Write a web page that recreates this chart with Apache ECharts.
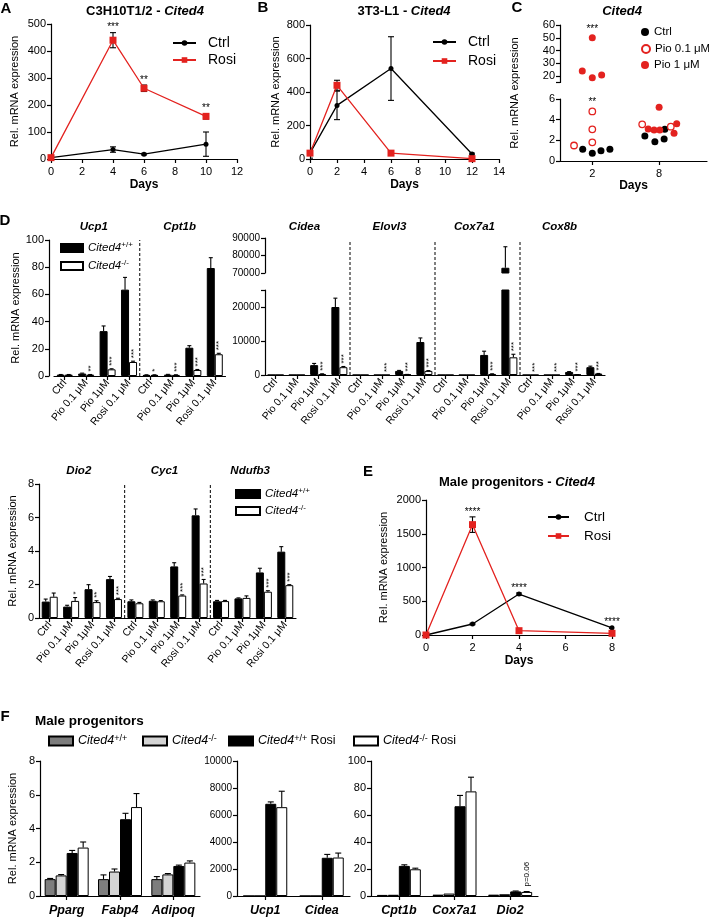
<!DOCTYPE html>
<html>
<head>
<meta charset="utf-8">
<title>Cited4</title>
<script src="https://cdn.jsdelivr.net/npm/echarts@6.0.0/dist/echarts.min.js"></script>
<style>
  html, body { margin: 0; padding: 0; background: #fff; }
  #chart { width: 709px; height: 922px; }
</style>
</head>
<body>
<div id="chart"></div>
<script>
/* -------------------------------------------------------------------------- */
/*                                    Data                                    */
/* -------------------------------------------------------------------------- */

// A: C3H10T1/2 - Cited4
const daysA = [0, 4, 6, 10];
const ctrlA = [5, 35, 18, 55];
const ctrlAErr = [3, 10, 3, 45];
const rosiA = [5, 440, 262, 158];
const rosiAErr = [3, 28, 12, 10];
const starsA = ['', '***', '**', '**'];

// B: 3T3-L1 - Cited4
const daysB = [0, 2, 6, 12];
const ctrlB = [35, 320, 540, 30];
const ctrlBErr = [30, 85, 190, 5];
const rosiB = [35, 440, 35, 2];
const rosiBErr = [5, 30, 4, 2];

// C: Cited4, single wells [day + jitter, value]
const ctrlC = [[1.14, 1.13], [2, 0.75], [2.78, 1.0], [3.58, 1.13], [6.72, 2.42], [7.62, 1.87], [8.45, 2.13], [8.51, 3.07]];
const pio01C = [[0.36, 1.5], [2, 4.8], [2, 3.07], [2, 1.81], [6.48, 3.55], [9.05, 3.32]];
const pio1C = [[2, 50], [1.1, 23.9], [2, 18.7], [2.84, 20.8], [8, 5.2], [7.02, 3.1], [7.55, 3.0], [8.06, 3.0], [9.58, 3.61], [9.34, 2.68]];
const daysC = [2, 8];
const starsCTop = ['***', ''];
const starsCBottom = ['**', ''];

// D: treatments per gene
const treatments = ['Ctrl', 'Pio 0.1 μM', 'Pio 1μM', 'Rosi 0.1 μM'];

const genesD1 = ['Ucp1', 'Cpt1b'];
const wtD1 = [1, 1.8, 33, 63.5, 0.8, 1, 20.8, 79.4];
const wtD1Err = [0.1, 0.3, 3.8, 9, 0.1, 0.2, 1.5, 7.6];
const koD1 = [1, 1, 4.9, 10.3, 0.8, 0.8, 4.4, 16];
const koD1Err = [0.1, 0.1, 0.4, 0.6, 0.1, 0.1, 0.4, 0.7];
const starsD1 = ['', '**', '***', '***', '*', '***', '***', '***'];

const genesD2 = ['Cidea', 'Elovl3', 'Cox7a1', 'Cox8b'];
const wtD2 = [1, 1, 2900, 20000, 1, 1, 1200, 9700, 1, 1, 5900, 73000, 1, 1, 900, 2300];
const wtD2Err = [0, 0, 500, 2600, 0, 0, 150, 1200, 0, 0, 1100, 12000, 0, 0, 100, 300];
const koD2 = [1, 1, 300, 2300, 1, 1, 150, 1200, 1, 1, 300, 5200, 1, 1, 100, 400];
const koD2Err = [0, 0, 50, 200, 0, 0, 20, 100, 0, 0, 50, 900, 0, 0, 20, 50];
const starsD2 = ['', '', '***', '***', '', '***', '***', '***', '', '', '***', '***', '***', '***', '***', '***'];

const genesD3 = ['Dio2', 'Cyc1', 'Ndufb3'];
const wtD3 = [0.98, 0.68, 1.72, 2.32, 1.0, 1.03, 3.08, 6.13, 1.0, 1.17, 2.72, 3.96];
const wtD3Err = [0.15, 0.08, 0.27, 0.16, 0.08, 0.05, 0.22, 0.38, 0.05, 0.03, 0.25, 0.3];
const koD3 = [1.27, 1.02, 0.95, 1.13, 0.88, 1.0, 1.34, 2.06, 1.01, 1.2, 1.57, 1.96];
const koD3Err = [0.22, 0.2, 0.08, 0.05, 0.05, 0.04, 0.04, 0.24, 0.04, 0.12, 0.06, 0.03];
const starsD3 = ['', '*', '**', '***', '', '', '***', '***', '', '', '***', '***'];

// E: male progenitors - Cited4
const daysE = [0, 2, 4, 8];
const ctrlE = [0, 163, 607, 106];
const ctrlEErr = [0, 10, 15, 8];
const rosiE = [0, 1635, 64, 25];
const rosiEErr = [0, 115, 8, 5];
const starsE = ['', '****', '****', '****'];

// F: male progenitors
const genesF1 = ['Pparg', 'Fabp4', 'Adipoq'];
const wtF1 = [1.0, 1.0, 1.0];
const wtF1Err = [0.04, 0.25, 0.15];
const koF1 = [1.22, 1.45, 1.28];
const koF1Err = [0.05, 0.15, 0.05];
const wtRosiF1 = [2.55, 4.55, 1.78];
const wtRosiF1Err = [0.15, 0.35, 0.05];
const koRosiF1 = [2.87, 5.27, 1.98];
const koRosiF1Err = [0.33, 0.8, 0.1];

const genesF2 = ['Ucp1', 'Cidea'];
const wtF2 = [1, 1];
const koF2 = [1, 1];
const wtRosiF2 = [6830, 2830];
const wtRosiF2Err = [140, 250];
const koRosiF2 = [6580, 2850];
const koRosiF2Err = [1180, 330];

const genesF3 = ['Cpt1b', 'Cox7a1', 'Dio2'];
const wtF3 = [0.8, 1.0, 1.0];
const koF3 = [0.9, 1.8, 1.3];
const wtRosiF3 = [22.3, 66.5, 3.4];
const wtRosiF3Err = [0.8, 8, 0.3];
const koRosiF3 = [19.8, 77.5, 3.0];
const koRosiF3Err = [0.8, 10.5, 0.3];
const notesF3 = ['', '', 'p=0.06'];

/* -------------------------------------------------------------------------- */
/*                                   Helpers                                  */
/* -------------------------------------------------------------------------- */

const FONT = '"Liberation Sans", Arial, sans-serif';
const RED = '#e3221f';
const YNAME = 'Rel. mRNA expression';

const merge = (a, b) => {
  if (!b) return a;
  Object.keys(b).forEach(k => {
    const v = b[k];
    if (v && typeof v === 'object' && !Array.isArray(v) && a[k] && typeof a[k] === 'object') merge(a[k], v);
    else a[k] = v;
  });
  return a;
};

const tok = (size, weight, style, extra) =>
  Object.assign({ fontSize: size, fontWeight: weight || 'normal', fontStyle: style || 'normal', fontFamily: FONT, color: '#000', fill: '#000' }, extra);

const option = {
  animation: false,
  backgroundColor: '#fff',
  grid: [],
  xAxis: [],
  yAxis: [],
  series: [],
  legend: [],
  graphic: { elements: [] },
};

const addGrid = rect => {
  option.grid.push(Object.assign({ containLabel: false }, rect));
  return option.grid.length - 1;
};

const axisBase = (gridIndex, extra) =>
  merge({
    gridIndex,
    axisLine: { show: true, onZero: false, lineStyle: { color: '#000', width: 1.2 } },
    axisTick: { show: true, length: 4, lineStyle: { color: '#000', width: 1.2 } },
    axisLabel: { color: '#000', fontSize: 11, fontFamily: FONT, margin: 5, formatter: v => String(v) },
    splitLine: { show: false },
    nameTextStyle: { color: '#000', fontFamily: FONT, fontSize: 11 },
  }, extra);

const addX = (gi, extra) => { option.xAxis.push(axisBase(gi, extra)); return option.xAxis.length - 1; };
const addY = (gi, extra) => { option.yAxis.push(axisBase(gi, extra)); return option.yAxis.length - 1; };
const hiddenX = (gi, extra) => { option.xAxis.push(Object.assign({ gridIndex: gi, show: false, type: 'value' }, extra)); return option.xAxis.length - 1; };
const hiddenY = (gi, extra) => { option.yAxis.push(Object.assign({ gridIndex: gi, show: false, type: 'value' }, extra)); return option.yAxis.length - 1; };

const daysName = gap => ({
  name: 'Days', nameLocation: 'middle', nameGap: gap,
  nameTextStyle: { fontWeight: 'bold', fontSize: 12 },
});
const yName = gap => ({ name: YNAME, nameLocation: 'middle', nameGap: gap });

// vertical error bars drawn through the axes
const errorBars = (xi, yi, pts, errs, opt = {}) => ({
  type: 'custom',
  xAxisIndex: xi,
  yAxisIndex: yi,
  silent: true,
  clip: true,
  z: 3,
  data: pts.map((p, i) => [p[0], p[1], errs[i]]),
  encode: { x: 0, y: 1 },
  renderItem(params, api) {
    const x = api.value(0);
    const y = api.value(1);
    const e = api.value(2);
    if (!e) return null;
    const top = api.coord([x, y + e]);
    const base = api.coord([x, opt.both ? y - e : y]);
    const cx = top[0] + (opt.dx || 0);
    const cap = opt.cap || 3;
    const st = { stroke: '#000', lineWidth: 1.1 };
    const kids = [
      { type: 'line', shape: { x1: cx, y1: top[1], x2: cx, y2: base[1] }, style: st },
      { type: 'line', shape: { x1: cx - cap, y1: top[1], x2: cx + cap, y2: top[1] }, style: st },
    ];
    if (opt.both) kids.push({ type: 'line', shape: { x1: cx - cap, y1: base[1], x2: cx + cap, y2: base[1] }, style: st });
    return { type: 'group', children: kids };
  },
});

// small annotations (stars, p values) anchored at data points
const textMarks = (xi, yi, pts, texts, opt = {}) => ({
  type: 'custom',
  xAxisIndex: xi,
  yAxisIndex: yi,
  silent: true,
  z: 5,
  data: pts,
  encode: { x: 0, y: 1 },
  renderItem(params, api) {
    const t = texts[params.dataIndex];
    if (!t) return null;
    const p = api.coord([api.value(0), api.value(1)]);
    return {
      type: 'text',
      x: p[0] + (opt.dx || 0),
      y: p[1] + (opt.dy || 0),
      rotation: opt.rotation || 0,
      style: {
        text: t, fontSize: opt.fontSize || 10, fontFamily: FONT, fill: '#000',
        align: opt.align || 'center', verticalAlign: opt.valign || 'bottom',
      },
    };
  },
});

const addText = (x, y, text, style, extra) => {
  option.graphic.elements.push(Object.assign({
    type: 'text', x, y, silent: true,
    style: Object.assign({ text, fill: '#000', fontFamily: FONT, fontSize: 12, align: 'center', verticalAlign: 'middle' }, style),
  }, extra));
};

const supRich = size => ({
  i: tok(size, 'normal', 'italic', { lineHeight: 14 }),
  s: tok(Math.round(size * 0.68), 'normal', 'normal', { lineHeight: 7, verticalAlign: 'top' }),
  n: tok(size, 'normal', 'normal', { lineHeight: 14 }),
});

const legendItem = (name, left, cy, o = {}) => {
  const h = o.lineHeight || 16;
  const lg = {
    data: [name], left, top: cy - h / 2, padding: 0, selectedMode: false,
    itemWidth: o.w || 23, itemHeight: o.h || 8,
    textStyle: { color: '#000', fontFamily: FONT, fontSize: o.fontSize || 13, lineHeight: h, padding: [0, 0, 0, o.pad || 0] },
  };
  if (o.icon) lg.icon = o.icon;
  if (o.formatter) lg.formatter = o.formatter;
  if (o.rich) lg.textStyle.rich = o.rich;
  option.legend.push(lg);
};

const lineSeries = (xi, yi, name, xs, ys, isRosi) => ({
  type: 'line',
  name,
  xAxisIndex: xi,
  yAxisIndex: yi,
  data: xs.map((d, i) => [d, ys[i]]),
  symbol: isRosi ? 'rect' : 'circle',
  symbolSize: isRosi ? 7 : 5,
  z: 4,
  itemStyle: { color: isRosi ? RED : '#000' },
  lineStyle: { color: isRosi ? RED : '#000', width: 1.3 },
});

const timeCourse = (xi, yi, days, ctrl, ctrlErr, rosi, rosiErr, stars) => {
  option.series.push(
    errorBars(xi, yi, days.map((d, i) => [d, ctrl[i]]), ctrlErr, { both: true, cap: 3 }),
    errorBars(xi, yi, days.map((d, i) => [d, rosi[i]]), rosiErr, { both: true, cap: 3 }),
    lineSeries(xi, yi, 'Ctrl', days, ctrl, false),
    lineSeries(xi, yi, 'Rosi', days, rosi, true)
  );
  if (stars) {
    const tops = days.map((d, i) => [d, Math.max(ctrl[i] + ctrlErr[i], rosi[i] + rosiErr[i])]);
    option.series.push(textMarks(xi, yi, tops, stars, { dy: 0, fontSize: 10 }));
  }
};

const pairBars = (xi, yi, wt, wtErr, ko, koErr, stars) => {
  const idx = wt.map((_, i) => i);
  option.series.push(
    { type: 'bar', name: 'WT', xAxisIndex: xi, yAxisIndex: yi, data: wt, barWidth: 8, barGap: '0%', clip: true,
      itemStyle: { color: '#000', borderColor: '#000', borderWidth: 1 } },
    { type: 'bar', name: 'KO', xAxisIndex: xi, yAxisIndex: yi, data: ko, barWidth: 8, barGap: '0%', clip: true,
      itemStyle: { color: '#fff', borderColor: '#000', borderWidth: 1 } },
    errorBars(xi, yi, idx.map(i => [i, wt[i]]), wtErr, { dx: -4, cap: 2 }),
    errorBars(xi, yi, idx.map(i => [i, ko[i]]), koErr, { dx: 4, cap: 2 })
  );
  if (stars) {
    option.series.push(textMarks(xi, yi, idx.map(i => [i, ko[i] + koErr[i]]), stars,
      { dx: 4.5, dy: -3, rotation: Math.PI / 2, align: 'left', valign: 'middle', fontSize: 8 }));
  }
};

const F_COLORS = ['#7d7d7d', '#d4d4d4', '#000', '#fff'];
const F_NAMES = ['F-WT', 'F-KO', 'F-WTR', 'F-KOR'];
const F_DX = [-16.5, -5.5, 5.5, 16.5];

const quadBars = (xi, yi, sets, errs, notes) => {
  sets.forEach((vals, k) => {
    option.series.push({
      type: 'bar', name: F_NAMES[k], xAxisIndex: xi, yAxisIndex: yi, data: vals, barWidth: 11, barGap: '0%',
      itemStyle: { color: F_COLORS[k], borderColor: '#000', borderWidth: 1 },
    });
    if (errs[k]) option.series.push(errorBars(xi, yi, vals.map((v, i) => [i, v]), errs[k], { dx: F_DX[k], cap: 3 }));
  });
  if (notes) {
    const v = sets[3];
    option.series.push(textMarks(xi, yi, v.map((y, i) => [i, y + (errs[3] ? errs[3][i] : 0)]), notes,
      { dx: F_DX[3], dy: -5, rotation: Math.PI / 2, align: 'left', valign: 'middle', fontSize: 8 }));
  }
};

const dashedSplits = (xi, yi, nGenes) => {
  for (let k = 1; k < nGenes; k++) {
    const at = k * treatments.length;
    option.series.push({
      type: 'line', xAxisIndex: xi, yAxisIndex: yi, silent: true, symbol: 'none',
      data: [[at, 0], [at, 1]],
      lineStyle: { color: '#000', width: 1, type: [3, 2] },
    });
  }
};

const repeatCats = genes => genes.flatMap(() => treatments);
const catAxis = (gi, cats, extra) => addX(gi, merge({
  type: 'category', data: cats,
  axisTick: { alignWithLabel: true, interval: 0 },
  axisLabel: { interval: 0, rotate: 50, fontSize: 10.5, margin: 5 },
}, extra));

/* -------------------------------------------------------------------------- */
/*                                   Panels                                   */
/* -------------------------------------------------------------------------- */

// A
const gA = addGrid({ left: 51, top: 24, width: 186, height: 135 });
const xA = addX(gA, merge({ type: 'value', min: 0, max: 12, interval: 2, axisLabel: { margin: 7 } }, daysName(20)));
const yA = addY(gA, merge({ type: 'value', min: 0, max: 500, interval: 100 }, yName(31)));
timeCourse(xA, yA, daysA, ctrlA, ctrlAErr, rosiA, rosiAErr, starsA);

// B
const gB = addGrid({ left: 310, top: 25, width: 189, height: 134 });
const xB = addX(gB, merge({ type: 'value', min: 0, max: 14, interval: 2, axisLabel: { margin: 7 } }, daysName(20)));
const yB = addY(gB, merge({ type: 'value', min: 0, max: 800, interval: 200 }, yName(29)));
timeCourse(xB, yB, daysB, ctrlB, ctrlBErr, rosiB, rosiBErr, null);

// C (broken y axis)
const gCt = addGrid({ left: 560, top: 25, width: 147, height: 57.4 });
const gCb = addGrid({ left: 560, top: 99, width: 147, height: 62 });
const xCt = hiddenX(gCt, { min: -0.9, max: 12.3 });
const yCt = addY(gCt, {
  type: 'value', min: 15, max: 60,
  axisLabel: { customValues: [20, 30, 40, 50, 60] },
  axisTick: { customValues: [15, 20, 30, 40, 50, 60] },
});
const xCb = addX(gCb, merge({
  type: 'value', min: -0.9, max: 12.3,
  axisLabel: { customValues: daysC, margin: 7 },
  axisTick: { customValues: daysC },
}, daysName(15)));
const yCb = addY(gCb, { type: 'value', min: 0, max: 6, interval: 2 });
[[xCt, yCt], [xCb, yCb]].forEach(([xi, yi]) => {
  option.series.push(
    { type: 'scatter', name: 'C-Ctrl', xAxisIndex: xi, yAxisIndex: yi, data: ctrlC, symbolSize: 7, clip: true,
      itemStyle: { color: '#000', opacity: 1 } },
    { type: 'scatter', name: 'C-Pio01', xAxisIndex: xi, yAxisIndex: yi, data: pio01C, symbolSize: 6.5, clip: true,
      itemStyle: { color: '#fff', borderColor: RED, borderWidth: 1.3, opacity: 1 } },
    { type: 'scatter', name: 'C-Pio1', xAxisIndex: xi, yAxisIndex: yi, data: pio1C, symbolSize: 7, clip: true,
      itemStyle: { color: RED, opacity: 1 } }
  );
});
option.series.push(
  textMarks(xCt, yCt, daysC.map(d => [d, Math.max(...pio1C.filter(p => Math.abs(p[0] - d) < 2).map(p => p[1]))]), starsCTop, { dy: -4 }),
  textMarks(xCb, yCb, daysC.map(d => [d, Math.max(...pio01C.filter(p => Math.abs(p[0] - d) < 2).map(p => p[1]))]), starsCBottom, { dy: -4 })
);

// D top-left: Ucp1, Cpt1b
const gD1 = addGrid({ left: 54, top: 240, width: 171.5, height: 136 });
const xD1 = catAxis(gD1, repeatCats(genesD1));
const yD1 = addY(gD1, merge({ type: 'value', min: 0, max: 100, interval: 20, offset: 5 }, yName(28)));
pairBars(xD1, yD1, wtD1, wtD1Err, koD1, koD1Err, starsD1);
dashedSplits(hiddenX(gD1, { min: 0, max: wtD1.length }), hiddenY(gD1, { min: 0, max: 1 }), genesD1.length);

// D top-right: Cidea ... Cox8b (broken y axis)
const gD2t = addGrid({ left: 265, top: 238, width: 340, height: 35 });
const gD2b = addGrid({ left: 265, top: 290, width: 340, height: 85 });
const gD2o = addGrid({ left: 265, top: 240, width: 340, height: 135 });
const xD2t = addX(gD2t, { type: 'category', data: repeatCats(genesD2), show: false });
const yD2t = addY(gD2t, { type: 'value', min: 70000, max: 90000, interval: 10000, axisLabel: { fontSize: 10 } });
const xD2b = catAxis(gD2b, repeatCats(genesD2));
const yD2b = addY(gD2b, {
  type: 'value', min: 0, max: 25000,
  axisLabel: { fontSize: 10, customValues: [0, 10000, 20000] },
  axisTick: { customValues: [0, 10000, 20000, 25000] },
});
pairBars(xD2t, yD2t, wtD2, wtD2Err, koD2, koD2Err, null);
pairBars(xD2b, yD2b, wtD2, wtD2Err, koD2, koD2Err, starsD2);
dashedSplits(hiddenX(gD2o, { min: 0, max: wtD2.length }), hiddenY(gD2o, { min: 0, max: 1 }), genesD2.length);

// D bottom: Dio2, Cyc1, Ndufb3
const gD3 = addGrid({ left: 39, top: 484, width: 257, height: 134 });
const xD3 = catAxis(gD3, repeatCats(genesD3));
const yD3 = addY(gD3, merge({ type: 'value', min: 0, max: 8, interval: 2 }, yName(21)));
pairBars(xD3, yD3, wtD3, wtD3Err, koD3, koD3Err, starsD3);
dashedSplits(hiddenX(gD3, { min: 0, max: wtD3.length }), hiddenY(gD3, { min: 0, max: 1 }), genesD3.length);

// E
const gE = addGrid({ left: 426, top: 500, width: 186, height: 135 });
const xE = addX(gE, merge({ type: 'value', min: 0, max: 8, interval: 2, axisLabel: { margin: 7 } }, daysName(20)));
const yE = addY(gE, merge({ type: 'value', min: 0, max: 2000, interval: 500 }, yName(37)));
timeCourse(xE, yE, daysE, ctrlE, ctrlEErr, rosiE, rosiEErr, starsE);

// F
const fCat = () => ({
  type: 'category',
  axisTick: { alignWithLabel: true, interval: 0 },
  axisLabel: { interval: 0, fontSize: 12.5, fontWeight: 'bold', fontStyle: 'italic', margin: 8 },
});
const gF1 = addGrid({ left: 40, top: 761, width: 160, height: 135 });
const xF1 = addX(gF1, merge(fCat(), { data: genesF1 }));
const yF1 = addY(gF1, merge({ type: 'value', min: 0, max: 8, interval: 2 }, yName(22)));
quadBars(xF1, yF1, [wtF1, koF1, wtRosiF1, koRosiF1], [wtF1Err, koF1Err, wtRosiF1Err, koRosiF1Err], null);

const gF2 = addGrid({ left: 237, top: 761, width: 113, height: 135 });
const xF2 = addX(gF2, merge(fCat(), { data: genesF2 }));
const yF2 = addY(gF2, { type: 'value', min: 0, max: 10000, interval: 2000, axisLabel: { fontSize: 10 } });
quadBars(xF2, yF2, [wtF2, koF2, wtRosiF2, koRosiF2], [null, null, wtRosiF2Err, koRosiF2Err], null);

const gF3 = addGrid({ left: 371, top: 761, width: 167, height: 135 });
const xF3 = addX(gF3, merge(fCat(), { data: genesF3 }));
const yF3 = addY(gF3, { type: 'value', min: 0, max: 100, interval: 20 });
quadBars(xF3, yF3, [wtF3, koF3, wtRosiF3, koRosiF3], [null, null, wtRosiF3Err, koRosiF3Err], notesF3);

/* -------------------------------------------------------------------------- */
/*                                  Legends                                   */
/* -------------------------------------------------------------------------- */

legendItem('Ctrl', 172, 43, { pad: 7, fontSize: 14, h: 7 });
legendItem('Rosi', 172, 60, { pad: 7, fontSize: 14, h: 7 });
legendItem('Ctrl', 432, 42, { pad: 7, fontSize: 14, h: 7 });
legendItem('Rosi', 432, 61, { pad: 7, fontSize: 14, h: 7 });
legendItem('Ctrl', 547, 517, { pad: 10, fontSize: 13.5, h: 7, w: 21 });
legendItem('Rosi', 547, 536, { pad: 10, fontSize: 13.5, h: 7, w: 21 });

const cLabels = { 'C-Ctrl': 'Ctrl', 'C-Pio01': 'Pio 0.1 μM', 'C-Pio1': 'Pio 1 μM' };
[['C-Ctrl', 32], ['C-Pio01', 49], ['C-Pio1', 65]].forEach(([n, cy]) => {
  legendItem(n, 641, cy, { w: 8, h: 8, pad: 0, fontSize: 11.5, formatter: name => cLabels[name] });
});

const dLabels = { WT: '{i|Cited4}{s|+/+}', KO: '{i|Cited4}{s|-/-}' };
const dFmt = name => dLabels[name];
legendItem('WT', 60, 249, { icon: 'rect', w: 22, h: 8, fontSize: 11, formatter: dFmt, rich: supRich(11.5) });
legendItem('KO', 60, 267, { icon: 'rect', w: 22, h: 8, fontSize: 11, formatter: dFmt, rich: supRich(11.5) });
legendItem('WT', 235, 495, { icon: 'rect', w: 24, h: 8, fontSize: 11, formatter: dFmt, rich: supRich(11.5) });
legendItem('KO', 235, 512, { icon: 'rect', w: 24, h: 8, fontSize: 11, formatter: dFmt, rich: supRich(11.5) });

const fLabels = {
  'F-WT': '{i|Cited4}{s|+/+}', 'F-KO': '{i|Cited4}{s|-/-}',
  'F-WTR': '{i|Cited4}{s|+/+}{n| Rosi}', 'F-KOR': '{i|Cited4}{s|-/-}{n| Rosi}',
};
[['F-WT', 48], ['F-KO', 142], ['F-WTR', 228], ['F-KOR', 353]].forEach(([n, left]) => {
  legendItem(n, left, 742, { icon: 'rect', w: 24, h: 9, fontSize: 12.5, formatter: name => fLabels[name], rich: supRich(12.5) });
});

/* -------------------------------------------------------------------------- */
/*                              Titles and letters                            */
/* -------------------------------------------------------------------------- */

const titleRich = size => ({ b: tok(size, 'bold', 'normal'), bi: tok(size, 'bold', 'italic') });
addText(145, 11, '{b|C3H10T1/2 - }{bi|Cited4}', { rich: titleRich(13) });
addText(404, 11, '{b|3T3-L1 - }{bi|Cited4}', { rich: titleRich(13) });
addText(622, 11, '{bi|Cited4}', { rich: titleRich(13) });
addText(517, 482, '{b|Male progenitors - }{bi|Cited4}', { rich: titleRich(13) });
addText(35, 721, 'Male progenitors', { fontWeight: 'bold', fontSize: 13.5, align: 'left' });

[['A', 6, 9], ['B', 263, 8], ['C', 517, 8], ['D', 5, 221], ['E', 368, 472], ['F', 5, 717]].forEach(([t, x, y]) => {
  addText(x, y, t, { fontWeight: 'bold', fontSize: 15 });
});

// C shares one axis title across the break
addText(515, 93, YNAME, { fontSize: 11 }, { rotation: Math.PI / 2 });

// gene names over the D groups
const geneTitles = (genes, rect, y) => {
  const n = genes.length * treatments.length;
  genes.forEach((g, k) => {
    const cx = rect.left + ((k * treatments.length + 2) / n) * rect.width - 3;
    addText(cx, y, g, { fontWeight: 'bold', fontStyle: 'italic', fontSize: 11.5 });
  });
};
geneTitles(genesD1, option.grid[gD1], 227);
geneTitles(genesD2, option.grid[gD2b], 227);
geneTitles(genesD3, option.grid[gD3], 471);

const chart = echarts.init(document.getElementById('chart'), null, { renderer: 'canvas' });
chart.setOption(option);
</script>
</body>
</html>
